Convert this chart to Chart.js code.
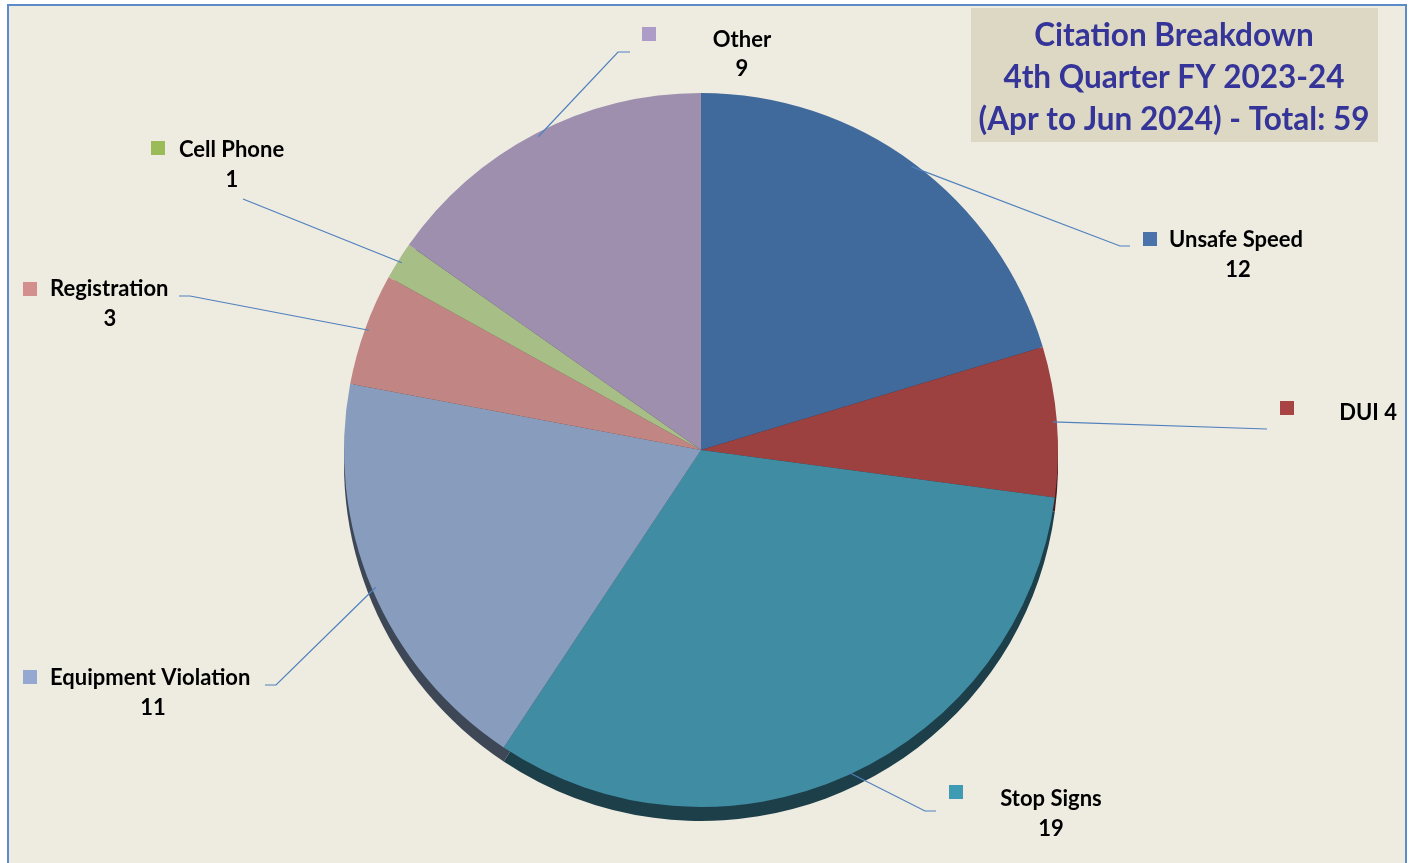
<!DOCTYPE html>
<html>
<head>
<meta charset="utf-8">
<script src="https://cdn.jsdelivr.net/npm/chart.js@4.4.1/dist/chart.umd.min.js"></script>
<style>
  body { margin: 0; background: #fff; }
  canvas { display: block; }
</style>
</head>
<body>
<canvas id="myChart" width="1411" height="863"></canvas>
<script>
// data
var categories = ['Unsafe Speed', 'DUI', 'Stop Signs', 'Equipment Violation', 'Registration', 'Cell Phone', 'Other'];
var counts = [12, 4, 19, 11, 3, 1, 9];
var titleLines = ['Citation Breakdown', '4th Quarter FY 2023-24', '(Apr to Jun 2024) - Total: 59'];

// colours
var sliceColors = ['#416A9C', '#9C4140', '#3F8CA3', '#889DBE', '#C18683', '#A8BE87', '#9E8FAF'];
var keyColors = ['#4A72AB', '#A94444', '#3F9AB3', '#94A8D1', '#D38F8E', '#9BBB59', '#AE9CC8'];

// label layout (square top-left, name/value anchors, leader line points after the slice edge)
var labelPos = [
    { sq: [1143, 232], nx: 1169, ny: 240, na: 'left', vx: 1238, vy: 270, line: [[1120, 246], [1130, 246]] },
    { sq: [1280, 401], nx: 1397, ny: 413, na: 'right', inline: true, line: [[1267, 429]] },
    { sq: [949, 785], nx: 1051, ny: 799, na: 'center', vx: 1051, vy: 829, line: [[925, 811], [936, 811]] },
    { sq: [23, 670], nx: 50, ny: 678, na: 'left', vx: 153, vy: 708, line: [[276, 685], [265, 685]] },
    { sq: [23, 282], nx: 50, ny: 289, na: 'left', vx: 110, vy: 319, line: [[190, 296], [179, 296]] },
    { sq: [151, 141], nx: 179, ny: 150, na: 'left', vx: 232, vy: 180, line: [[243, 199]] },
    { sq: [642, 27], nx: 742, ny: 40, na: 'center', vx: 742, vy: 69, line: [[618, 52], [630, 52]] }
];

var FONT = "Lato, 'Open Sans', sans-serif";

function darken(hex, f) {
    var n = parseInt(hex.slice(1), 16);
    var r = Math.round(((n >> 16) & 255) * f);
    var g = Math.round(((n >> 8) & 255) * f);
    var b = Math.round((n & 255) * f);
    return 'rgb(' + r + ',' + g + ',' + b + ')';
}

var framePlugin = {
    id: 'frame',
    beforeDraw: function (chart) {
        var c = chart.ctx;
        c.save();
        c.fillStyle = '#EEEBE1';
        c.fillRect(8, 5, 1398, 870);
        c.strokeStyle = '#5B8BC9';
        c.lineWidth = 2;
        c.strokeRect(8, 5, 1398, 870);
        c.restore();
    },
    beforeDatasetsDraw: function (chart) {
        // dark drop edge under the pie
        var c = chart.ctx;
        var arcs = chart.getDatasetMeta(0).data;
        c.save();
        arcs.forEach(function (a, i) {
            c.beginPath();
            c.moveTo(a.x, a.y + 14);
            c.arc(a.x, a.y + 14, a.outerRadius, a.startAngle, a.endAngle);
            c.closePath();
            c.fillStyle = darken(sliceColors[i], 0.45);
            c.fill();
        });
        c.restore();
    },
    afterDraw: function (chart) {
        var c = chart.ctx;
        var arcs = chart.getDatasetMeta(0).data;
        c.save();
        // leader lines
        c.strokeStyle = '#4F81BD';
        c.lineWidth = 1.2;
        arcs.forEach(function (a, i) {
            var mid = (a.startAngle + a.endAngle) / 2;
            var r = a.outerRadius - 4;
            c.beginPath();
            c.moveTo(a.x + Math.cos(mid) * r, a.y + Math.sin(mid) * r);
            labelPos[i].line.forEach(function (p) { c.lineTo(p[0], p[1]); });
            c.stroke();
        });
        // labels
        c.textBaseline = 'middle';
        c.font = 'bold 22px ' + FONT;
        categories.forEach(function (name, i) {
            var L = labelPos[i];
            c.fillStyle = keyColors[i];
            c.fillRect(L.sq[0], L.sq[1], 14, 14);
            c.fillStyle = '#000';
            c.textAlign = L.na;
            if (L.inline) {
                c.fillText(name + ' ' + counts[i], L.nx, L.ny);
            } else {
                c.fillText(name, L.nx, L.ny);
                c.textAlign = 'center';
                c.fillText(String(counts[i]), L.vx, L.vy);
            }
        });
        // title box
        c.fillStyle = '#DDD8C3';
        c.fillRect(971, 8, 407, 134);
        c.fillStyle = '#343499';
        c.font = 'bold 31.5px ' + FONT;
        c.textAlign = 'center';
        titleLines.forEach(function (t, k) {
            c.fillText(t, 1174, 36 + k * 42);
        });
        c.restore();
    }
};

var ctx = document.getElementById('myChart');
var myChart = new Chart(ctx, {
    type: 'pie',
    data: {
        labels: categories,
        datasets: [{
            data: counts,
            backgroundColor: sliceColors,
            borderWidth: 0
        }]
    },
    options: {
        responsive: false,
        animation: false,
        devicePixelRatio: 1,
        layout: { padding: { left: 344, right: 353, top: 93, bottom: 56 } },
        plugins: {
            legend: { display: false },
            tooltip: { enabled: false }
        }
    },
    plugins: [framePlugin]
});
</script>
</body>
</html>
